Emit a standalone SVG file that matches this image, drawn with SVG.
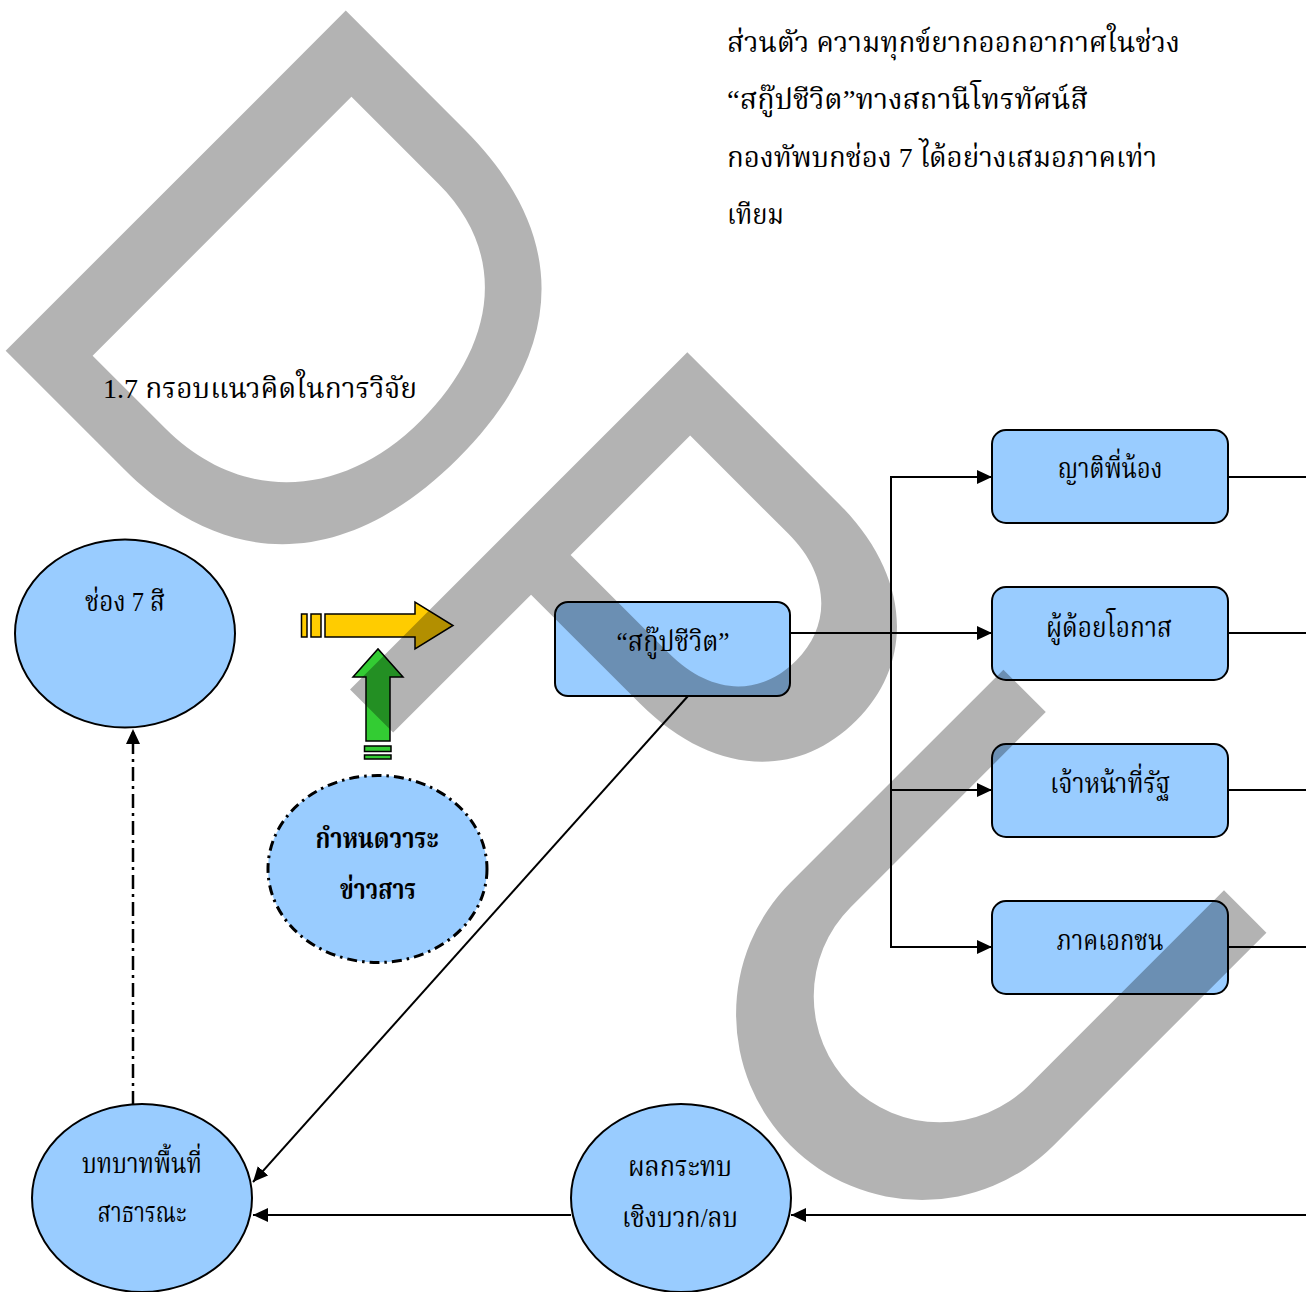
<svg xmlns="http://www.w3.org/2000/svg" width="1306" height="1292" viewBox="0 0 1306 1292">
<defs>
<style>
.t{font-family:"Liberation Serif","Noto Serif Thai","Noto Sans Thai",serif;font-size:28px;fill:#000}
.b{font-weight:bold}
.node{fill:#99ccff;stroke:#000;stroke-width:2}
.ln{fill:none;stroke:#000;stroke-width:2}
.dd{fill:none;stroke:#000;stroke-width:2.5;stroke-dasharray:14 5 3 5}
</style>
<marker id="ah" viewBox="0 0 15 14" refX="15" refY="7" markerWidth="15" markerHeight="14" markerUnits="userSpaceOnUse" orient="auto">
<path d="M0 0 L15 7 L0 14 Z" fill="#000"/>
</marker>
</defs>
<rect width="1306" height="1292" fill="#fff"/>

<g id="text-paragraph">
<text class="t" x="727" y="52" textLength="453" lengthAdjust="spacingAndGlyphs">ส่วนตัว ความทุกข์ยากออกอากาศในช่วง</text>
<text class="t" x="727" y="109" textLength="361" lengthAdjust="spacingAndGlyphs">“สกู๊ปชีวิต”ทางสถานีโทรทัศน์สี</text>
<text class="t" x="727" y="167" textLength="430" lengthAdjust="spacingAndGlyphs">กองทัพบกช่อง 7 ได้อย่างเสมอภาคเท่า</text>
<text class="t" x="727" y="224" textLength="57" lengthAdjust="spacingAndGlyphs">เทียม</text>
<text class="t" x="103" y="398" textLength="314" lengthAdjust="spacingAndGlyphs">1.7 กรอบแนวคิดในการวิจัย</text>
</g>

<g id="connectors">
<line class="ln" x1="790" y1="633" x2="992" y2="633" marker-end="url(#ah)"/>
<polyline class="ln" points="992,477 891,477 891,947 992,947" marker-end="url(#ah)"/>
<line class="ln" x1="891" y1="477" x2="992" y2="477" marker-end="url(#ah)"/>
<line class="ln" x1="891" y1="790" x2="992" y2="790" marker-end="url(#ah)"/>
<line class="ln" x1="1228" y1="477" x2="1306" y2="477"/>
<line class="ln" x1="1228" y1="633" x2="1306" y2="633"/>
<line class="ln" x1="1228" y1="790" x2="1306" y2="790"/>
<line class="ln" x1="1228" y1="947" x2="1306" y2="947"/>
<line class="ln" x1="1306" y1="1215" x2="791" y2="1215" marker-end="url(#ah)"/>
<line class="ln" x1="571" y1="1215" x2="253" y2="1215" marker-end="url(#ah)"/>
<line class="ln" x1="688" y1="696" x2="253" y2="1182" marker-end="url(#ah)"/>
<line class="dd" x1="133" y1="1105" x2="133" y2="729" marker-end="url(#ah)"/>
</g>

<g id="node-ch7">
<ellipse class="node" cx="125" cy="633.5" rx="110" ry="94"/>
<text class="t" x="125" y="611" text-anchor="middle" textLength="80" lengthAdjust="spacingAndGlyphs">ช่อง 7 สี</text>
</g>

<g id="arrow-yellow">
<rect x="301.5" y="614" width="5.5" height="23" fill="#ffcc00" stroke="#000" stroke-width="1.5"/>
<rect x="311" y="614" width="10" height="23" fill="#ffcc00" stroke="#000" stroke-width="1.5"/>
<path d="M325 614 L415 614 L415 602 L453 625.5 L415 649 L415 637 L325 637 Z" fill="#ffcc00" stroke="#000" stroke-width="1.5" stroke-linejoin="miter"/>
</g>

<g id="arrow-green">
<path d="M366 741 L366 677 L353 677 L378 649 L403 677 L390 677 L390 741 Z" fill="#33cc33" stroke="#000" stroke-width="1.5"/>
<rect x="364.5" y="746" width="26.5" height="5.5" fill="#33cc33" stroke="#000" stroke-width="1.5"/>
<rect x="364.5" y="755" width="26.5" height="4" fill="#33cc33" stroke="#000" stroke-width="1.5"/>
</g>

<g id="node-agenda">
<ellipse cx="377.5" cy="869" rx="109.5" ry="93.5" fill="#99ccff" stroke="#000" stroke-width="3" stroke-dasharray="10 5 2.5 5"/>
<text class="t b" x="377" y="848" text-anchor="middle" textLength="123" lengthAdjust="spacingAndGlyphs">กำหนดวาระ</text>
<text class="t b" x="378" y="899" text-anchor="middle" textLength="76" lengthAdjust="spacingAndGlyphs">ข่าวสาร</text>
</g>

<g id="node-scoop">
<rect class="node" x="555" y="602" width="235" height="94" rx="13"/>
<text class="t" x="673" y="651" text-anchor="middle" textLength="113" lengthAdjust="spacingAndGlyphs">“สกู๊ปชีวิต”</text>
</g>

<g id="node-relatives">
<rect class="node" x="992" y="430" width="236" height="93" rx="14"/>
<text class="t" x="1110" y="478" text-anchor="middle" textLength="105" lengthAdjust="spacingAndGlyphs">ญาติพี่น้อง</text>
</g>
<g id="node-underprivileged">
<rect class="node" x="992" y="587" width="236" height="93" rx="14"/>
<text class="t" x="1109" y="637" text-anchor="middle" textLength="126" lengthAdjust="spacingAndGlyphs">ผู้ด้อยโอกาส</text>
</g>
<g id="node-officials">
<rect class="node" x="992" y="744" width="236" height="93" rx="14"/>
<text class="t" x="1110" y="793" text-anchor="middle" textLength="120" lengthAdjust="spacingAndGlyphs">เจ้าหน้าที่รัฐ</text>
</g>
<g id="node-private">
<rect class="node" x="992" y="901" width="236" height="93" rx="14"/>
<text class="t" x="1110" y="950" text-anchor="middle" textLength="107" lengthAdjust="spacingAndGlyphs">ภาคเอกชน</text>
</g>

<g id="node-impact">
<ellipse class="node" cx="681" cy="1198" rx="110" ry="94"/>
<text class="t" x="680" y="1176" text-anchor="middle" textLength="104" lengthAdjust="spacingAndGlyphs">ผลกระทบ</text>
<text class="t" x="680" y="1227" text-anchor="middle" textLength="116" lengthAdjust="spacingAndGlyphs">เชิงบวก/ลบ</text>
</g>

<g id="node-publicsphere">
<ellipse class="node" cx="142" cy="1198" rx="110" ry="94"/>
<text class="t" x="142" y="1173" text-anchor="middle" textLength="120" lengthAdjust="spacingAndGlyphs">บทบาทพื้นที่</text>
<text class="t" x="142" y="1222" text-anchor="middle" textLength="89" lengthAdjust="spacingAndGlyphs">สาธารณะ</text>
</g>

<g id="watermark" transform="rotate(45)" fill="#000" fill-opacity="0.298" fill-rule="evenodd">
<path d="M252 -237 L420 -237 C572 -237 648 -150 648 0 C648 150 572 244 420 244 L252 244 Z M317 -180 L440 -180 C545 -180 595 -100 595 0 C595 112 525 186 420 186 L317 186 Z"/>
<path d="M735 240 L735 -237 L950 -237 C1050 -237 1115 -180 1115 -96 C1115 -10 1050 45 950 45 L796 45 L796 240 Z M796 -180 L935 -180 C995 -180 1030 -145 1030 -96 C1030 -45 995 -11 935 -11 L796 -11 Z"/>
<path d="M1183 -236 L1183 65 A186 186 0 0 0 1555 65 L1555 -236 L1495 -236 L1495 40 A126 126 0 0 1 1243 40 L1243 -236 Z"/>
</g>
</svg>
